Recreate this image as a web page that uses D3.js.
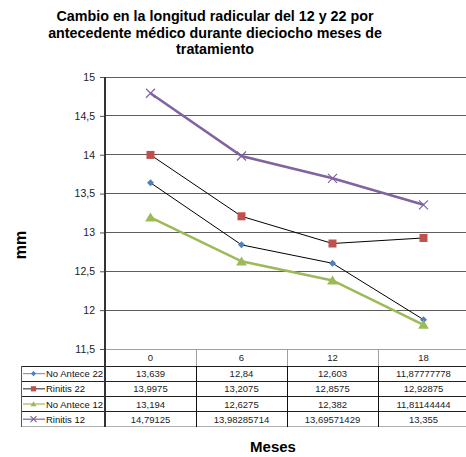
<!DOCTYPE html>
<html><head><meta charset="utf-8">
<script src="https://cdn.jsdelivr.net/npm/d3@7"></script>
<style>body{margin:0;background:#fff}svg{display:block}text{font-family:"Liberation Sans",Arial,sans-serif}</style>
</head><body>
<svg id="c" width="466" height="457"></svg>
<script>
const categories = ["0", "6", "12", "18"];
const seriesNames = ["No Antece 22", "Rinitis 22", "No Antece 12", "Rinitis 12"];
const noAntece22 = [13.639, 12.84, 12.603, 11.87777778];
const rinitis22 = [13.9975, 13.2075, 12.8575, 12.92875];
const noAntece12 = [13.194, 12.6275, 12.382, 11.81144444];
const rinitis12 = [14.79125, 13.98285714, 13.69571429, 13.355];
const tableLabels = [
  ["13,639", "12,84", "12,603", "11,87777778"],
  ["13,9975", "13,2075", "12,8575", "12,92875"],
  ["13,194", "12,6275", "12,382", "11,81144444"],
  ["14,79125", "13,98285714", "13,69571429", "13,355"]
];
const yTicks = [11.5, 12, 12.5, 13, 13.5, 14, 14.5, 15];
const titleLines = ["Cambio en la longitud radicular del 12 y 22 por", "antecedente médico durante dieciocho meses de", "tratamiento"];

const series = [
  {name: seriesNames[0], values: noAntece22, line: "#000", lw: 1, color: "#4F81BD", marker: "diamond", legendLine: "#8A9AB0"},
  {name: seriesNames[1], values: rinitis22, line: "#000", lw: 1, color: "#C0504D", marker: "square", legendLine: "#444"},
  {name: seriesNames[2], values: noAntece12, line: "#9BBB59", lw: 2.6, color: "#9BBB59", marker: "triangle", legendLine: "#9BBB59"},
  {name: seriesNames[3], values: rinitis12, line: "#8064A2", lw: 2.6, color: "#8064A2", marker: "x", legendLine: "#8064A2"}
];

const svg = d3.select("#c");
const L = 105, T = 77, B = 349, colW = 91;
const x = d3.scaleBand().domain(categories).range([L, L + colW * categories.length]).padding(0);
const y = d3.scaleLinear().domain([11.5, 15]).range([B, T]);

// title
const title = svg.append("text").attr("text-anchor", "middle").attr("font-weight", "bold").attr("font-size", 14.3).attr("fill", "#000");
titleLines.forEach((t, i) => title.append("tspan").attr("x", 215).attr("y", 21 + i * 16.5).text(t));

// gridlines
svg.append("g").selectAll("line").data(yTicks.filter(d => d > 11.5)).join("line")
  .attr("x1", L).attr("x2", 466).attr("y1", d => y(d)).attr("y2", d => y(d))
  .attr("stroke", "#5e5e5e").attr("stroke-width", 1).attr("shape-rendering", "crispEdges");

// y axis
const yAxis = d3.axisLeft(y).tickValues(yTicks).tickSize(5).tickSizeOuter(0)
  .tickFormat(d => String(d).replace(".", ","));
const ga = svg.append("g").attr("transform", `translate(${L},0)`).call(yAxis);
ga.select(".domain").remove();
ga.selectAll(".tick line").attr("stroke", "#555");
ga.selectAll(".tick text").attr("font-family", "Liberation Sans, Arial, sans-serif").attr("font-size", 10.5).attr("fill", "#222").attr("x", -10);

// table
const rowH = 15.2, headTop = B, headBot = 366, fs = 9.5;
const tbl = svg.append("g");
const rowsTop = d => headBot + d * rowH;
tbl.append("line").attr("x1", L).attr("x2", 470).attr("y1", headTop).attr("y2", headTop).attr("stroke", "#a0a0a0").attr("shape-rendering", "crispEdges");
categories.forEach((c, i) => {
  tbl.append("text").attr("x", x(c) + x.bandwidth() / 2).attr("y", 361).attr("text-anchor", "middle").attr("font-size", fs).attr("fill", "#222").text(c);
  if (i > 0) tbl.append("line").attr("x1", x(c)).attr("x2", x(c)).attr("y1", headTop).attr("y2", headBot).attr("stroke", "#a0a0a0").attr("shape-rendering", "crispEdges");
});
const legX = 21;
for (let r = 0; r <= series.length; r++) {
  tbl.append("line").attr("x1", legX).attr("x2", 470).attr("y1", rowsTop(r)).attr("y2", rowsTop(r))
    .attr("stroke", r === series.length ? "#b0b0b0" : "#222").attr("shape-rendering", "crispEdges");
}
tbl.append("line").attr("x1", legX).attr("x2", legX).attr("y1", headBot).attr("y2", rowsTop(series.length)).attr("stroke", "#555").attr("shape-rendering", "crispEdges");
categories.forEach((c, i) => {
  tbl.append("line").attr("x1", x(c)).attr("x2", x(c)).attr("y1", i === 0 ? T : headBot).attr("y2", rowsTop(series.length))
    .attr("stroke", i === 0 ? "#333" : "#111").attr("stroke-width", i === 0 ? 1.3 : 1).attr("shape-rendering", "crispEdges");
});

function marker(g, type, cx, cy, color, s) {
  if (type === "diamond") g.append("path").attr("d", `M${cx},${cy - s}L${cx + s},${cy}L${cx},${cy + s}L${cx - s},${cy}Z`).attr("fill", color);
  else if (type === "square") g.append("rect").attr("x", cx - s).attr("y", cy - s).attr("width", 2 * s).attr("height", 2 * s).attr("fill", color);
  else if (type === "triangle") g.append("path").attr("d", `M${cx},${cy - s * 1.1}L${cx + s * 1.2},${cy + s * 0.9}L${cx - s * 1.2},${cy + s * 0.9}Z`).attr("fill", color);
  else if (type === "x") g.append("path").attr("d", `M${cx - s},${cy - s}L${cx + s},${cy + s}M${cx + s},${cy - s}L${cx - s},${cy + s}`).attr("stroke", color).attr("stroke-width", 1.2).attr("fill", "none");
}

series.forEach((s, r) => {
  const cy = rowsTop(r) + rowH / 2;
  tbl.append("line").attr("x1", 23).attr("x2", 45).attr("y1", cy).attr("y2", cy).attr("stroke", s.legendLine).attr("stroke-width", 1.2);
  marker(tbl, s.marker, 33.5, cy, s.color, s.marker === "x" ? 3 : 2.6);
  tbl.append("text").attr("x", 46).attr("y", cy + 3.5).attr("font-size", fs).attr("fill", "#111").text(s.name);
  categories.forEach((c, i) => {
    tbl.append("text").attr("x", x(c) + x.bandwidth() / 2).attr("y", cy + 3.5).attr("text-anchor", "middle").attr("font-size", fs).attr("fill", "#222").text(tableLabels[r][i]);
  });
});

// lines
const cx = c => x(c) + x.bandwidth() / 2;
const lineGen = d3.line().x((d, i) => cx(categories[i])).y(d => y(d));
series.forEach(s => {
  svg.append("path").datum(s.values).attr("d", lineGen).attr("fill", "none").attr("stroke", s.line).attr("stroke-width", s.lw);
  const g = svg.append("g");
  s.values.forEach((v, i) => marker(g, s.marker, cx(categories[i]), y(v), s.color, s.marker === "x" ? 4.5 : (s.marker === "triangle" ? 4.5 : (s.marker === "square" ? 4 : 3.5))));
});

// axis titles
svg.append("text").attr("transform", "translate(26,245) rotate(-90)").attr("text-anchor", "middle").attr("font-weight", "bold").attr("font-size", 16).text("mm");
svg.append("text").attr("x", 273).attr("y", 452).attr("text-anchor", "middle").attr("font-weight", "bold").attr("font-size", 15).text("Meses");
</script>
</body></html>
